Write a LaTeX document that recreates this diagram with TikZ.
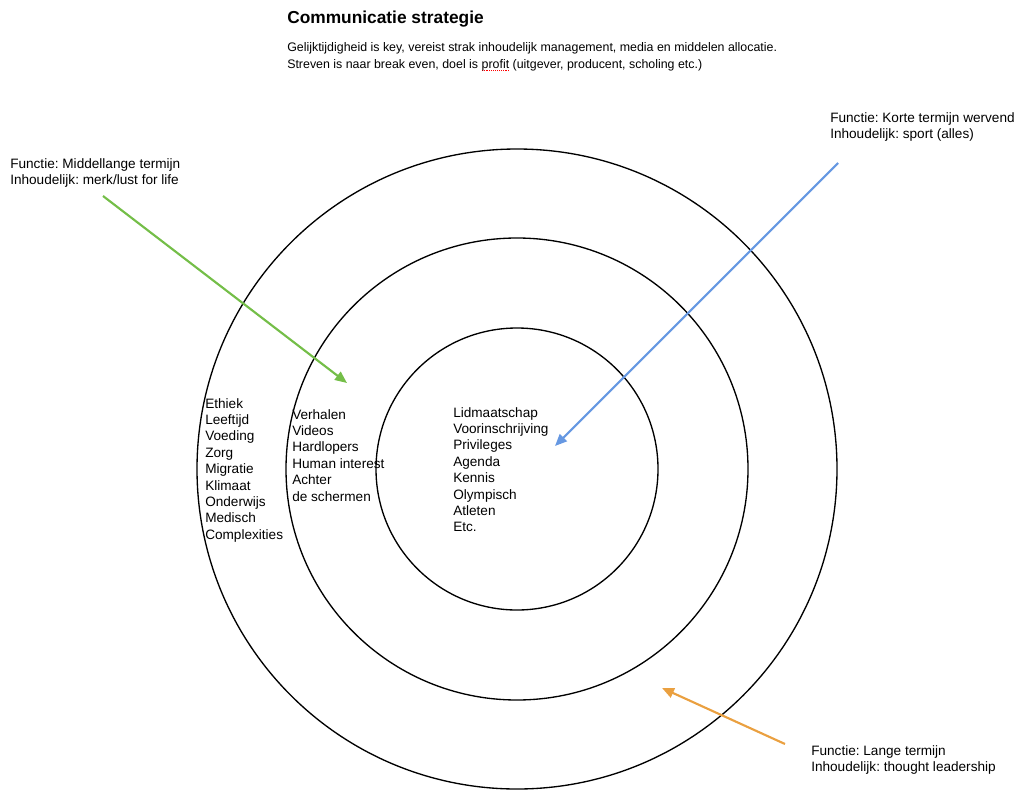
\documentclass[tikz,border=0pt]{standalone}
\usepackage{fontspec}
\setmainfont{Liberation Sans}
\usetikzlibrary{positioning, arrows.meta}
\definecolor{arrowgreen}{RGB}{116,190,72}
\definecolor{arrowblue}{RGB}{102,152,226}
\definecolor{arroworange}{RGB}{234,160,64}
\newsavebox{\spellbox}
\newcommand{\spellmark}[1]{\leavevmode\sbox{\spellbox}{#1}%
    \rlap{\raisebox{-2.2pt}{\color{red}\makebox[\wd\spellbox]{\xleaders\hbox to 1.5pt{\hss\rule{0.8pt}{0.8pt}\hss}\hfill}}}%
    \usebox{\spellbox}}
\frenchspacing

\begin{document}
\begin{tikzpicture}[
    x=0.75pt, y=-0.75pt,
    ring/.style={draw, line width=1pt},
    txt/.style={anchor=north west, inner sep=0pt, align=left, font=\fontsize{10.2}{12.3}\selectfont},
    pointer/.style={line width=1.6pt, -{Triangle[length=9pt, width=7.5pt]}},
    >=Triangle
    ]
    \useasboundingbox (0,0) rectangle (1021,789);

    % rings
    \coordinate (ctr) at (517,469);
    \foreach \r in {141,231,320}
        \draw[ring] (ctr) circle[radius=\r];

    % header
    \node[anchor=north west, inner sep=0pt, font=\fontsize{13}{15}\selectfont\bfseries] (title) at (287,11) {Communicatie strategie};
    \node[txt, font=\fontsize{9.3}{12.7}\selectfont] (intro) at (287,42) {Gelijktijdigheid is key, vereist strak inhoudelijk management, media en middelen allocatie.\\
        Streven is naar break even, doel is \spellmark{profit} (uitgever, producent, scholing etc.)};

    % ring contents
    \node[txt] (outerlist) at (205,398) {Ethiek\\Leeftijd\\Voeding\\Zorg\\Migratie\\Klimaat\\Onderwijs\\Medisch\\Complexities};
    \node[txt] (midlist) at (292,409) {Verhalen\\Videos\\Hardlopers\\Human interest\\Achter\\de schermen};
    \node[txt] (innerlist) at (453,407) {Lidmaatschap\\Voorinschrijving\\Privileges\\Agenda\\Kennis\\Olympisch\\Atleten\\Etc.};

    % functions
    \node[txt] (midterm) at (10,158) {Functie: Middellange termijn\\Inhoudelijk: merk/lust for life};
    \node[txt] (shortterm) at (830,112) {Functie: Korte termijn wervend\\Inhoudelijk: sport (alles)};
    \node[txt] (longterm) at (811,745) {Functie: Lange termijn\\Inhoudelijk: thought leadership};

    % arrows
    \coordinate (gs) at (103,196);
    \coordinate (ge) at (347,383);
    \coordinate (bs) at (838,163);
    \coordinate (be) at (555,446);
    \coordinate (os) at (785,744);
    \coordinate (oe) at (662,688);
    \draw[pointer, arrowgreen] (gs) -- (ge);
    \draw[pointer, arrowblue] (bs) -- (be);
    \draw[pointer, arroworange] (os) -- (oe);
\end{tikzpicture}
\end{document}
